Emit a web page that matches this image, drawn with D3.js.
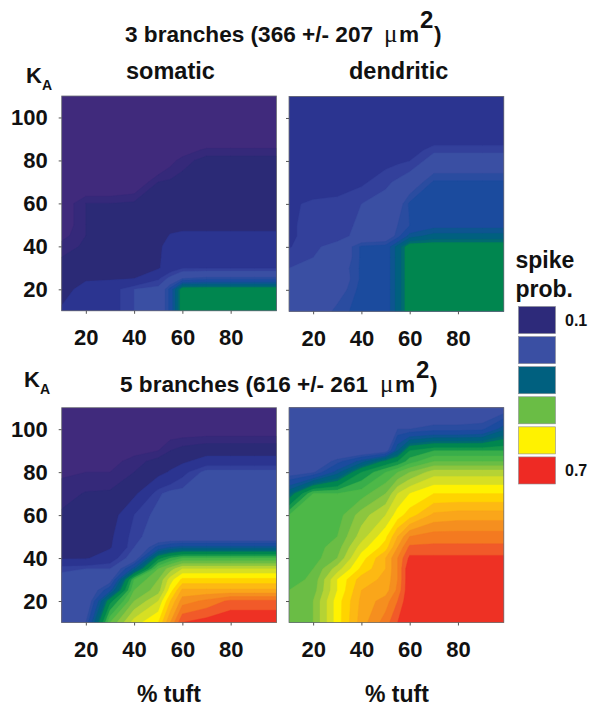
<!DOCTYPE html>
<html>
<head>
<meta charset="utf-8">
<script src="https://cdn.jsdelivr.net/npm/d3@7"></script>
<style>
  body { margin: 0; background: #fff; }
  text { font-family: "Liberation Sans", Arial, sans-serif; font-weight: bold; fill: #111; }
</style>
</head>
<body>
<div id="chart"></div>
<script>
// grid the values were read on (% tuft across, KA going down)
const tuftGrid = [10, 20, 30, 40, 50, 55, 60, 70, 80, 90, 100]
const kaGrid = [110, 100, 90, 85, 80, 70, 60, 50, 45, 40, 35, 30, 25, 20, 10]

const somatic3 = [
  [.05, .05, .05, .05, .05, .05, .05, .05, .05, .05, .05],
  [.05, .05, .05, .05, .05, .05, .05, .05, .05, .05, .05],
  [.05, .05, .05, .05, .05, .05, .055, .06, .06, .06, .06],
  [.05, .05, .05, .05, .055, .06, .07, .083, .083, .083, .083],
  [.05, .05, .05, .05, .06, .075, .085, .095, .095, .095, .095],
  [.05, .06, .06, .065, .09, .092, .095, .10, .10, .10, .10],
  [.07, .09, .09, .092, .095, .10, .10, .105, .105, .105, .105],
  [.07, .09, .09, .095, .10, .11, .118, .118, .118, .118, .118],
  [.075, .09, .09, .095, .105, .128, .13, .13, .13, .13, .13],
  [.085, .092, .095, .10, .12, .135, .135, .135, .135, .135, .135],
  [.09, .10, .10, .10, .12, .14, .14, .14, .14, .14, .14],
  [.095, .105, .105, .11, .12, .15, .165, .165, .165, .165, .165],
  [.10, .12, .12, .125, .165, .20, .24, .25, .25, .25, .25],
  [.11, .14, .155, .19, .20, .27, .37, .37, .37, .37, .37],
  [.13, .14, .155, .19, .20, .27, .37, .37, .37, .37, .37]
]

const dendritic3 = [
  [.15, .15, .15, .15, .15, .15, .15, .15, .15, .15, .15],
  [.15, .15, .15, .15, .15, .15, .15, .15, .15, .15, .15],
  [.15, .15, .15, .15, .15, .15, .15, .15, .15, .15, .15],
  [.15, .15, .15, .15, .15, .15, .15, .185, .185, .185, .185],
  [.15, .15, .15, .15, .16, .165, .17, .205, .205, .205, .205],
  [.15, .15, .15, .165, .185, .195, .21, .265, .265, .265, .265],
  [.165, .175, .18, .19, .20, .22, .265, .27, .27, .27, .27],
  [.165, .18, .18, .195, .21, .24, .26, .28, .28, .28, .28],
  [.165, .18, .18, .20, .21, .25, .30, .32, .32, .32, .32],
  [.168, .185, .20, .265, .27, .32, .37, .37, .37, .37, .37],
  [.18, .19, .20, .265, .27, .32, .37, .37, .37, .37, .37],
  [.19, .20, .215, .265, .27, .32, .37, .37, .37, .37, .37],
  [.20, .20, .21, .265, .27, .32, .37, .37, .37, .37, .37],
  [.20, .20, .22, .27, .27, .32, .37, .37, .37, .37, .37],
  [.20, .205, .25, .27, .27, .32, .37, .37, .37, .37, .37]
]

const somatic5 = [
  [.05, .05, .05, .05, .05, .05, .05, .05, .05, .05, .05],
  [.05, .05, .05, .05, .06, .07, .07, .07, .07, .07, .07],
  [.06, .06, .07, .075, .08, .09, .095, .10, .10, .10, .10],
  [.07, .07, .075, .085, .095, .105, .115, .15, .15, .15, .15],
  [.078, .08, .08, .09, .11, .13, .16, .20, .20, .20, .20],
  [.085, .091, .092, .115, .185, .20, .20, .20, .20, .20, .20],
  [.092, .095, .10, .17, .20, .20, .20, .20, .20, .20, .20],
  [.095, .10, .115, .185, .20, .20, .20, .20, .20, .20, .20],
  [.10, .105, .12, .19, .27, .29, .30, .30, .30, .30, .30],
  [.12, .12, .15, .21, .37, .40, .42, .42, .42, .42, .42],
  [.185, .19, .19, .30, .44, .47, .50, .50, .50, .50, .50],
  [.20, .195, .22, .42, .46, .51, .545, .545, .545, .545, .545],
  [.20, .20, .28, .44, .47, .53, .585, .585, .585, .585, .585],
  [.20, .20, .37, .46, .50, .56, .61, .625, .645, .645, .645],
  [.20, .24, .44, .51, .54, .60, .66, .67, .68, .68, .68]
]

const dendritic5 = [
  [.20, .20, .20, .20, .20, .20, .20, .20, .20, .20, .22],
  [.20, .20, .20, .20, .20, .24, .24, .25, .25, .255, .31],
  [.20, .20, .20, .20, .22, .31, .38, .40, .40, .40, .40],
  [.20, .21, .25, .30, .36, .38, .41, .44, .44, .44, .44],
  [.22, .235, .30, .38, .42, .44, .46, .49, .49, .49, .49],
  [.33, .42, .42, .43, .46, .50, .52, .54, .54, .54, .54],
  [.42, .42, .43, .47, .50, .53, .55, .585, .59, .59, .59],
  [.42, .43, .44, .49, .535, .58, .62, .63, .63, .63, .63],
  [.42, .43, .45, .51, .55, .60, .645, .645, .645, .645, .645],
  [.42, .43, .46, .53, .58, .62, .665, .665, .665, .665, .665],
  [.42, .44, .49, .545, .58, .62, .68, .69, .69, .69, .69],
  [.43, .445, .52, .57, .585, .62, .68, .70, .70, .70, .70],
  [.44, .45, .52, .58, .59, .625, .68, .70, .70, .70, .70],
  [.45, .46, .53, .585, .61, .64, .68, .70, .70, .70, .70],
  [.45, .46, .53, .59, .63, .66, .69, .70, .70, .70, .70]
]

// contour bands, lower edge and colour
const bandLevels = [0, .08, .09, .125, .17, .19, .24, .26, .29, .31, .335, .35, .38, .40, .42, .44, .46, .48, .50, .52, .54, .56, .58, .60, .62, .64, .66]
const bandColors = ["#402a7c", "#35297a", "#2b2a76", "#2b3490", "#33409b", "#3a4fa3", "#2a4ca0", "#1b4b9e", "#0d5590", "#00607f", "#006b70", "#00864f", "#14974b", "#39ae4a", "#4db848", "#6abd45", "#8cc63f", "#b5d334", "#d7df23", "#fff200", "#ffd400", "#fdb913", "#faa61a", "#f58f1f", "#f47a20", "#f15a29", "#ee3124"]

const legendColors = ["#2d2a7a", "#3a4fa3", "#00607f", "#6abd45", "#fff200", "#ee2a24"]
const legendLabels = ["0.1", "", "", "", "", "0.7"]
const tuftTicks = [20, 40, 60, 80]
const kaTicks = [20, 40, 60, 80, 100]

const panels = [
  {values: somatic3, x: 61.7, y: 96},
  {values: dendritic3, x: 289, y: 96.5},
  {values: somatic5, x: 61.7, y: 407.7},
  {values: dendritic5, x: 289, y: 407.7}
]
const panelW = 214.8
const panelH = 214.8

const svg = d3.select("#chart").append("svg")
  .attr("width", 590)
  .attr("height", 707)

const contours = d3.contours()
  .size([tuftGrid.length, kaGrid.length])
  .thresholds(bandLevels)

panels.forEach(function (p, n) {
  const xScale = d3.scaleLinear().domain([10, 99]).range([0, panelW])
  const yScale = d3.scaleLinear().domain([10, 110]).range([panelH, 0])

  // contour coords -> data -> pixels, grid point i sits at i + 0.5
  const xIndex = d3.scaleLinear().domain(tuftGrid.map((d, i) => i + 0.5)).range(tuftGrid.map(d => xScale(d)))
  const yIndex = d3.scaleLinear().domain(kaGrid.map((d, i) => i + 0.5)).range(kaGrid.map(d => yScale(d)))
  const path = d3.geoPath(d3.geoTransform({
    point: function (x, y) { this.stream.point(xIndex(x), yIndex(y)) }
  }))

  const g = svg.append("g").attr("transform", "translate(" + p.x + "," + p.y + ")")

  g.append("clipPath").attr("id", "clip" + n)
    .append("rect").attr("width", panelW).attr("height", panelH)

  g.append("g").attr("clip-path", "url(#clip" + n + ")")
    .selectAll("path")
    .data(contours(p.values.flat()))
    .enter().append("path")
    .attr("d", path)
    .attr("fill", (d, i) => bandColors[i])
    .attr("stroke", (d, i) => bandColors[i])
    .attr("stroke-width", 0.4)

  g.append("rect")
    .attr("width", panelW).attr("height", panelH)
    .attr("fill", "none").attr("stroke", "#6d6f78").attr("stroke-width", 0.8)

  const xAxis = g.append("g").attr("transform", "translate(0," + panelH + ")")
    .call(d3.axisBottom(xScale).tickValues(tuftTicks).tickSize(3).tickPadding(16).tickSizeOuter(0))
  const yAxis = g.append("g")
    .call(d3.axisLeft(yScale).tickValues(kaTicks).tickSize(3).tickPadding(11).tickSizeOuter(0))

  xAxis.select(".domain").remove()
  yAxis.select(".domain").remove()
  xAxis.selectAll("line").attr("stroke", "#555")
  yAxis.selectAll("line").attr("stroke", "#555")
  xAxis.selectAll("text").style("font-size", "22px").style("font-family", '"Liberation Sans"').style("font-weight", "bold").attr("fill", "#111")
  yAxis.selectAll("text").style("font-size", "22px").style("font-family", '"Liberation Sans"').style("font-weight", "bold").attr("fill", "#111")
  if (n % 2) yAxis.selectAll("text").remove()
})

// titles with the raised 2 of um^2
function drawTitle(x, y, text, muX, supX, parenX) {
  svg.append("text").attr("x", x).attr("y", y).style("font-size", "22.6px").text(text)
  svg.append("text").attr("x", muX).attr("y", y)
    .style("font-size", "25px").style("font-weight", "normal").style("font-family", '"Liberation Serif"').text("\u03bc")
  svg.append("text").attr("x", muX + 15).attr("y", y).style("font-size", "22.6px").text("m")
  svg.append("text").attr("x", supX).attr("y", y - 14).style("font-size", "24px").text("2")
  svg.append("text").attr("x", parenX).attr("y", y).style("font-size", "22.6px").text(")")
}
drawTitle(125, 41.7, "3 branches (366 +/- 207", 384, 420, 434)
drawTitle(120, 392.3, "5 branches (616 +/- 261", 380, 416, 430)

svg.append("text").attr("x", 126).attr("y", 79).style("font-size", "23.5px").text("somatic")
svg.append("text").attr("x", 349).attr("y", 79).style("font-size", "23.5px").text("dendritic")

function drawKa(x, y) {
  svg.append("text").attr("x", x).attr("y", y).style("font-size", "22px").text("K")
  svg.append("text").attr("x", x + 16).attr("y", y + 7).style("font-size", "14px").text("A")
}
drawKa(26, 83)
drawKa(24, 386.5)

svg.append("text").attr("x", 137).attr("y", 701.5).style("font-size", "23px").text("% tuft")
svg.append("text").attr("x", 365).attr("y", 701.5).style("font-size", "23px").text("% tuft")

// legend
svg.append("text").attr("x", 515.5).attr("y", 268).style("font-size", "23px").text("spike")
svg.append("text").attr("x", 515.5).attr("y", 297).style("font-size", "23px").text("prob.")

const legendY = d3.scaleBand().domain(d3.range(legendColors.length)).range([306.5, 484]).paddingInner(0.1)

svg.selectAll(".swatch")
  .data(legendColors)
  .enter().append("rect")
  .attr("class", "swatch")
  .attr("x", 518.5)
  .attr("y", (d, i) => legendY(i))
  .attr("width", 37)
  .attr("height", legendY.bandwidth())
  .attr("fill", d => d)
  .attr("stroke", "#8a8c92")
  .attr("stroke-width", 0.6)

svg.selectAll(".swatch-label")
  .data(legendLabels)
  .enter().append("text")
  .attr("class", "swatch-label")
  .attr("x", 565)
  .attr("y", (d, i) => legendY(i) + legendY.bandwidth() / 2 + 6)
  .style("font-size", "16px")
  .text(d => d)
</script>
</body>
</html>
